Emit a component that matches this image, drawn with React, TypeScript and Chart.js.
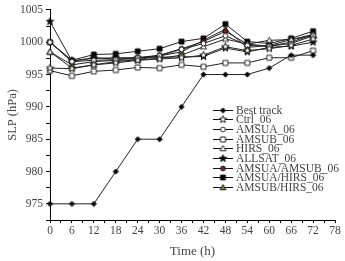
import React, { useEffect, useRef } from 'react';
import { Chart, registerables } from 'chart.js';
Chart.register(...registerables);

const times = [0, 6, 12, 18, 24, 30, 36, 42, 48, 54, 60, 66, 72];
const bestTrack = [975, 975, 975, 980, 985, 985, 990, 995, 995, 995, 996, 998, 998];
const ctrl06 = [996, 995.9, 996.5, 996.8, 997.2, 997.4, 997.6, 998.0, 999.3, 998.7, 999.0, 999.5, 1000.5];
const amsua06 = [1000, 997.0, 997.2, 997.3, 997.6, 997.9, 998.9, 999.8, 1001.0, 999.5, 999.4, 999.8, 1001.0];
const amsub06 = [995.6, 994.8, 995.5, 995.7, 996.1, 996.0, 996.5, 996.2, 996.8, 996.8, 997.6, 997.6, 998.7];
const hirs06 = [998.5, 996.0, 996.5, 997.0, 997.3, 997.5, 998.0, 999.3, 1000.5, 999.7, 1000.3, 1000.4, 1001.2];
const allsat06 = [1003.2, 997.1, 997.5, 997.6, 997.6, 997.7, 997.7, 997.8, 999.1, 998.5, 999.2, 999.4, 1000.0];
const amsuaAmsub06 = [1000, 997.1, 997.6, 997.4, 997.6, 998.0, 999.0, 1000.1, 1001.7, 999.7, 999.4, 1000.0, 1001.2];
const amsuaHirs06 = [1000, 997.2, 998.1, 998.2, 998.6, 999.0, 1000.1, 1000.6, 1002.8, 1000.1, 999.8, 1000.6, 1001.7];
const amsubHirs06 = [998.5, 996.5, 997.0, 997.2, 997.3, 997.9, 998.5, 1000.3, 1002.0, 999.2, 999.5, 1000.4, 1001.0];

const seriesLabels = ['Best track', 'Ctrl_06', 'AMSUA_06', 'AMSUB_06', 'HIRS_06', 'ALLSAT_06', 'AMSUA/AMSUB_06', 'AMSUA/HIRS_06', 'AMSUB/HIRS_06'];
const seriesValues = [bestTrack, ctrl06, amsua06, amsub06, hirs06, allsat06, amsuaAmsub06, amsuaHirs06, amsubHirs06];
const seriesMarkers = ['diamond', 'star', 'circle', 'square', 'triangle', 'star', 'circle', 'square', 'triangle'];
const seriesFills = ['#000', '#fff', '#fff', '#fff', '#fff', '#000', '#7a1f1f', '#000', '#6b8e23'];

const X_TICKS_MAJOR = 6;
const Y_TICKS_MAJOR = 5;

function makeMarker(kind: string, fill: string): HTMLCanvasElement {
  const S = 9;
  const c = document.createElement('canvas');
  c.width = S;
  c.height = S;
  const ctx = c.getContext('2d')!;
  const m = S / 2;
  ctx.fillStyle = fill;
  ctx.strokeStyle = '#111';
  ctx.lineWidth = 0.9;
  ctx.beginPath();
  if (kind === 'diamond') {
    ctx.moveTo(m, m - 2.6);
    ctx.lineTo(m + 2.6, m);
    ctx.lineTo(m, m + 2.6);
    ctx.lineTo(m - 2.6, m);
    ctx.closePath();
  } else if (kind === 'circle') {
    ctx.arc(m, m, 2.4, 0, Math.PI * 2);
  } else if (kind === 'square') {
    ctx.rect(m - 2.5, m - 2.5, 5, 5);
  } else if (kind === 'triangle') {
    ctx.moveTo(m, m - 3);
    ctx.lineTo(m + 3, m + 2.3);
    ctx.lineTo(m - 3, m + 2.3);
    ctx.closePath();
  } else if (kind === 'star') {
    const R = 3.9, r = 1.6;
    for (let i = 0; i < 10; i++) {
      const a = -Math.PI / 2 + (i * Math.PI) / 5;
      const rad = i % 2 === 0 ? R : r;
      const px = m + rad * Math.cos(a);
      const py = m + rad * Math.sin(a);
      if (i === 0) ctx.moveTo(px, py);
      else ctx.lineTo(px, py);
    }
    ctx.closePath();
  }
  ctx.fill();
  ctx.stroke();
  return c;
}

export default function App() {
  const ref = useRef<HTMLCanvasElement | null>(null);
  useEffect(() => {
    document.body.style.margin = '0';
    const markers = seriesMarkers.map((k, i) => makeMarker(k, seriesFills[i]));
    const FONT = '"Liberation Serif", "Times New Roman", serif';
    const legendPlugin = {
      id: 'customLegend',
      afterDraw(chart: any) {
        const ctx = chart.ctx;
        ctx.save();
        ctx.font = `11.5px ${FONT}`;
        ctx.textBaseline = 'middle';
        ctx.fillStyle = '#444';
        const x0 = 213, x1 = 233, y0 = 109.5, dy = 9.7;
        chart.data.datasets.forEach((ds: any, i: number) => {
          const y = Math.round(y0 + i * dy) + 0.5;
          ctx.strokeStyle = '#111';
          ctx.lineWidth = 1;
          ctx.beginPath();
          ctx.moveTo(x0, y);
          ctx.lineTo(x1, y);
          ctx.stroke();
          const mk = markers[i];
          ctx.drawImage(mk, (x0 + x1) / 2 - mk.width / 2, y - mk.height / 2);
          ctx.fillText(ds.label, x1 + 3, y);
        });
        ctx.restore();
      },
    };
    const chart = new Chart(ref.current!, {
      type: 'line',
      data: {
        labels: times,
        datasets: seriesLabels.map((label, i) => ({
          label,
          data: times.map((t, j) => ({ x: t, y: seriesValues[i][j] })),
          borderColor: '#222',
          borderWidth: 1,
          pointStyle: markers[i] as any,
          pointRadius: 4,
          fill: false,
          tension: 0,
          clip: false as any,
        })),
      },
      options: {
        animation: false,
        responsive: false,
        devicePixelRatio: 1,
        layout: { padding: { top: 9, right: 10, left: 0, bottom: 0 } },
        plugins: { legend: { display: false }, tooltip: { enabled: false } },
        scales: {
          x: {
            type: 'linear',
            min: 0,
            max: 78,
            afterFit: (s: any) => { s.height = 41; },
            ticks: {
              stepSize: 3,
              autoSkip: false,
              maxRotation: 0,
              padding: 1,
              color: '#444',
              font: { family: FONT, size: 11.5 },
              callback: (v: any) => (Number(v) % X_TICKS_MAJOR === 0 ? String(v) : ''),
            },
            grid: { display: true, drawOnChartArea: false, drawTicks: true, tickLength: 3, color: '#000' },
            border: { display: true, color: '#000', width: 1 },
            title: { display: true, text: 'Time (h)', color: '#444', font: { family: FONT, size: 13 }, padding: { top: 0, bottom: 2 } },
          },
          y: {
            type: 'linear',
            min: 972.5,
            max: 1005,
            afterFit: (s: any) => { s.width = 50; },
            ticks: {
              stepSize: 2.5,
              autoSkip: false,
              padding: 3,
              color: '#444',
              font: { family: FONT, size: 11.5 },
              callback: (v: any) => (Number(v) % Y_TICKS_MAJOR === 0 ? String(v) : ''),
            },
            grid: { display: true, drawOnChartArea: false, drawTicks: true, tickLength: 4, color: '#000' },
            border: { display: true, color: '#000', width: 1 },
            title: { display: true, text: 'SLP (hPa)', color: '#444', font: { family: FONT, size: 12.5 }, padding: { top: 5, bottom: 0 } },
          },
        },
      },
      plugins: [legendPlugin],
    });
    return () => chart.destroy();
  }, []);
  return (
    <div style={{ width: 345, height: 261, position: 'relative' }}>
      <canvas ref={ref} width={345} height={261} />
    </div>
  );
}
